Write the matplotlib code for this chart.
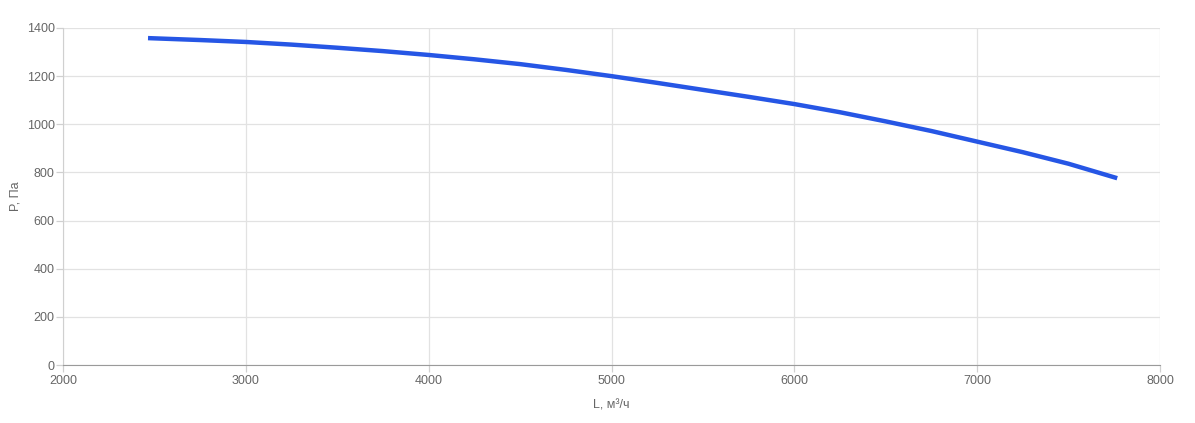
import matplotlib
matplotlib.use('Agg')
import matplotlib.pyplot as plt

# curve
flow = [2465, 2750, 3000, 3250, 3500, 3750, 4000, 4250, 4500, 4750, 5000, 5250, 5500,
        5750, 6000, 6250, 6500, 6750, 7000, 7250, 7500, 7766]
pressure = [1358, 1350, 1342, 1331, 1318, 1304, 1288, 1270, 1250, 1226, 1200, 1172, 1143,
            1114, 1084, 1050, 1012, 972, 928, 884, 836, 776]

x_ticks = [2000, 3000, 4000, 5000, 6000, 7000, 8000]
y_ticks = [0, 200, 400, 600, 800, 1000, 1200, 1400]

plt.rcParams['font.family'] = ['Liberation Sans', 'DejaVu Sans']

fig = plt.figure(figsize=(11.95, 4.23), dpi=100)
ax = fig.add_axes([63 / 1195, 58 / 423, 1097 / 1195, 337 / 423])

ax.plot(flow, pressure, color='#2656e5', linewidth=3.2, solid_capstyle='butt')

ax.set_xlim(2000, 8000)
ax.set_ylim(0, 1400)
ax.set_xticks(x_ticks)
ax.set_yticks(y_ticks)
ax.grid(True, color='#e2e2e2', linewidth=0.9)
ax.set_axisbelow(True)

for side in ['top', 'right']:
    ax.spines[side].set_visible(False)
ax.spines['left'].set_color('#d0d0d0')
ax.spines['bottom'].set_color('#9a9a9a')

ax.tick_params(axis='both', colors='#d0d0d0', labelcolor='#666666', labelsize=9, length=5, width=0.9, pad=1)
ax.tick_params(axis='x', pad=2)

ax.set_xlabel('L, м³/ч', color='#666666', fontsize=9, labelpad=9)
ax.set_ylabel('P, Па', color='#666666', fontsize=9, labelpad=4)

fig.savefig('out.png', dpi=100, facecolor='white')
